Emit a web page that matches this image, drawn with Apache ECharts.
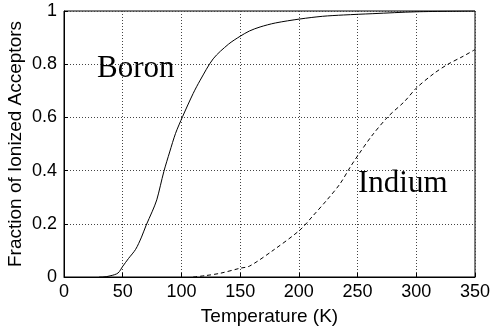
<!DOCTYPE html>
<html>
<head>
<meta charset="utf-8">
<script src="https://cdn.jsdelivr.net/npm/echarts@6/dist/echarts.min.js"></script>
<style>html,body{margin:0;padding:0;background:#fff;}#c{width:491px;height:333px;}</style>
</head>
<body>
<div id="c"></div>
<script>
const xTicks = [0, 50, 100, 150, 200, 250, 300, 350];
const yTicks = [0, 0.2, 0.4, 0.6, 0.8, 1];
const boronT = [30, 33, 40, 46, 50, 55, 61, 66, 70, 75, 79, 85, 90, 95, 101, 110, 116, 127, 140, 150, 158, 167, 180, 201, 220, 238, 263, 300, 350];
const boronF = [0, 0, 0.005, 0.015, 0.04, 0.07, 0.104, 0.15, 0.195, 0.245, 0.29, 0.396, 0.47, 0.54, 0.603, 0.69, 0.74, 0.82, 0.875, 0.905, 0.925, 0.94, 0.955, 0.97, 0.98, 0.985, 0.99, 0.997, 1.0];
const indiumT = [110, 120, 133, 150, 158, 178, 201, 212, 224, 235, 244, 250, 262, 276, 290, 300, 315, 327, 340, 350];
const indiumF = [0, 0.005, 0.014, 0.033, 0.041, 0.10, 0.177, 0.23, 0.29, 0.35, 0.415, 0.455, 0.53, 0.603, 0.66, 0.71, 0.765, 0.80, 0.83, 0.855];
const labels = ['Boron', 'Indium'];

const chart = echarts.init(document.getElementById('c'));
const axisFont = {color: '#000', fontFamily: 'Liberation Sans, Arial, sans-serif', fontSize: 18};
chart.setOption({
  animation: false,
  grid: {left: 64, right: 16, top: 11, bottom: 56, show: true, borderColor: '#000', borderWidth: 1,
         containLabel: false, outerBoundsMode: 'none'},
  xAxis: {
    type: 'value', min: xTicks[0], max: xTicks[xTicks.length - 1], interval: 50,
    name: 'Temperature (K)', nameLocation: 'middle', nameGap: 30, nameMoveOverlap: false,
    nameTextStyle: Object.assign({}, axisFont, {fontSize: 19}),
    axisLine: {show: true, onZero: false, lineStyle: {color: '#000'}},
    axisTick: {show: true, inside: true, length: 4, lineStyle: {color: '#000'}},
    axisLabel: Object.assign({margin: 6}, axisFont),
    splitLine: {show: true, lineStyle: {color: '#444', type: [1, 2], width: 1}}
  },
  yAxis: {
    type: 'value', min: yTicks[0], max: yTicks[yTicks.length - 1], interval: 0.2,
    name: 'Fraction of Ionized Acceptors', nameLocation: 'middle', nameGap: 39, nameMoveOverlap: false,
    nameTextStyle: Object.assign({}, axisFont, {fontSize: 19}),
    axisLine: {show: true, onZero: false, lineStyle: {color: '#000'}},
    axisTick: {show: true, inside: true, length: 4, lineStyle: {color: '#000'}},
    axisLabel: Object.assign({margin: 7, formatter: v => String(+v.toFixed(1))}, axisFont),
    splitLine: {show: true, lineStyle: {color: '#444', type: [1, 2], width: 1}}
  },
  series: [
    {name: labels[0], type: 'line', smooth: 0.3, symbol: 'none',
     data: boronT.map((t, i) => [t, boronF[i]]),
     lineStyle: {color: '#000', width: 1}},
    {name: labels[1], type: 'line', smooth: 0.3, symbol: 'none',
     data: indiumT.map((t, i) => [t, indiumF[i]]),
     lineStyle: {color: '#000', width: 1, type: [4, 3]}}
  ],
  graphic: [
    {type: 'text', left: 97, top: 53, style: {text: labels[0], fill: '#000', font: '31px "Liberation Serif", "Times New Roman", serif'}},
    {type: 'text', left: 358, top: 168, style: {text: labels[1], fill: '#000', font: '31px "Liberation Serif", "Times New Roman", serif'}}
  ]
});
</script>
</body>
</html>
